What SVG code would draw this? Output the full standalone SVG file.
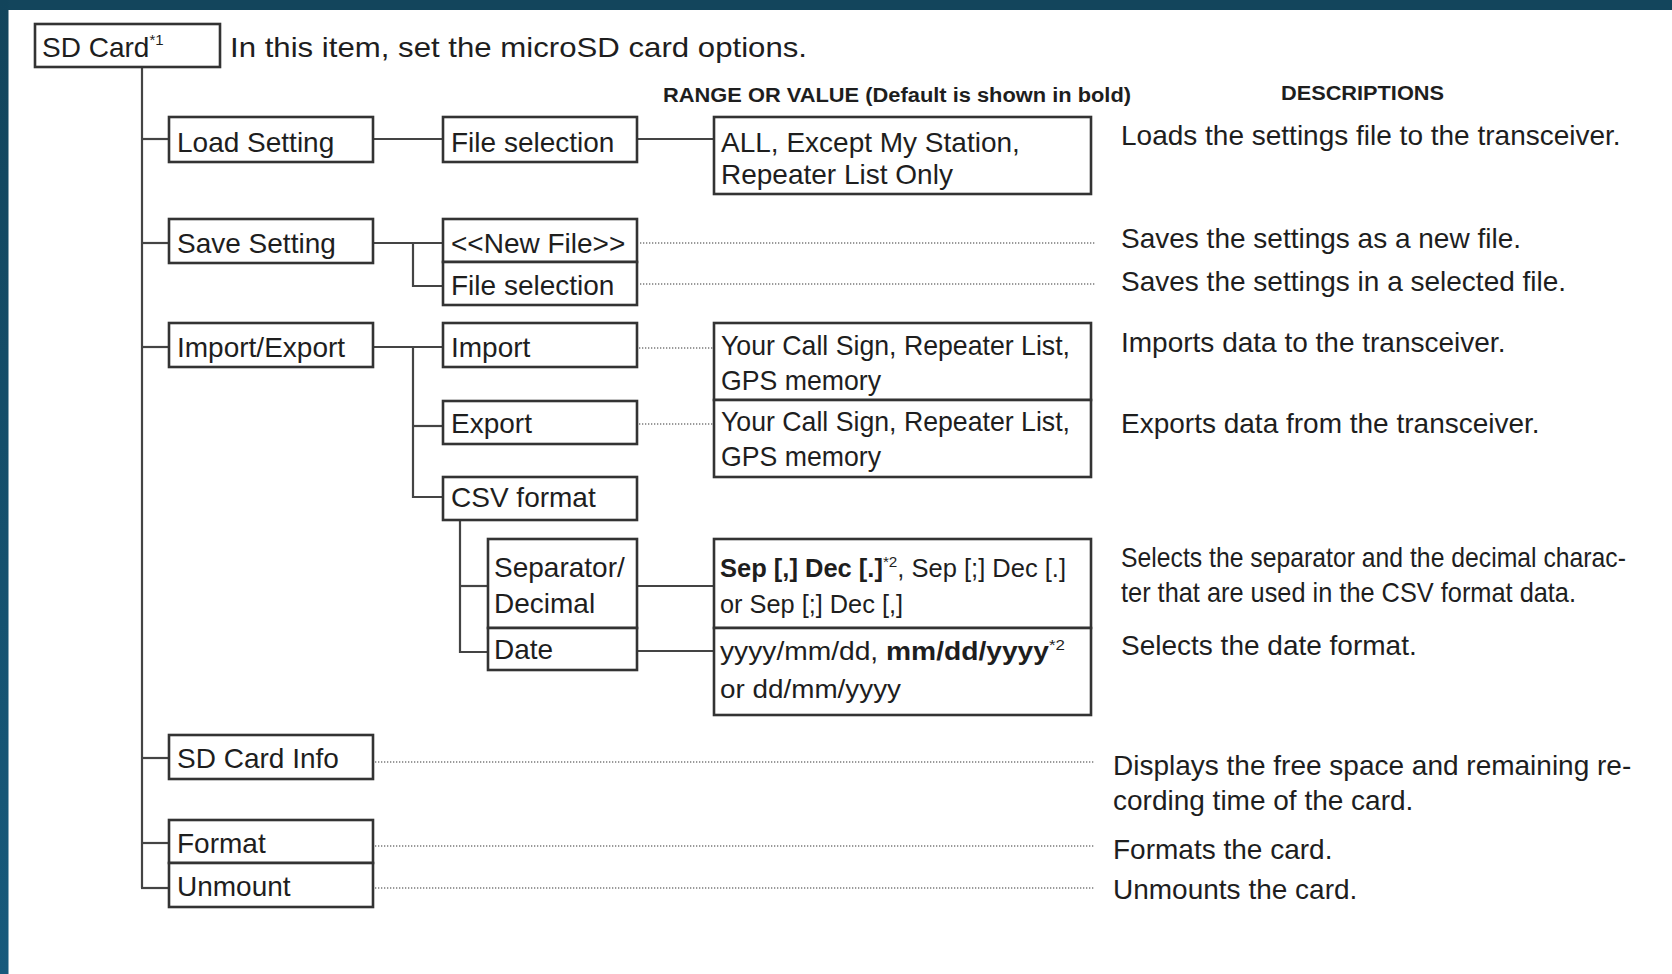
<svg xmlns="http://www.w3.org/2000/svg" width="1672" height="974" viewBox="0 0 1672 974">
<defs>
<linearGradient id="lb" x1="0" y1="0" x2="0" y2="1">
<stop offset="0" stop-color="#12445b"/>
<stop offset="1" stop-color="#175a7c"/>
</linearGradient>
<style>
text{font-family:"Liberation Sans",Arial,Helvetica,sans-serif;fill:#1e1e1e;font-size:28px}
.box{fill:#fff;stroke:#333;stroke-width:2.6}
.ln{stroke:#444;stroke-width:2.2;fill:none}
.dot{stroke:#9a9a9a;stroke-width:2;stroke-dasharray:1.3 1.7;fill:none}
.hd{font-weight:bold;font-size:20px}
.sm{font-size:25px}
.b{font-weight:bold}
.sup{font-size:15px}
</style>
</defs>
<rect x="0" y="0" width="1672" height="974" fill="#fff"/>
<rect x="0" y="0" width="1672" height="10" fill="#13455c"/>
<rect x="0" y="0" width="8.5" height="974" fill="url(#lb)"/>

<g id="connectors">
<line class="ln" x1="142" y1="67" x2="142" y2="888"/>
<line class="ln" x1="142" y1="139" x2="169" y2="139"/>
<line class="ln" x1="142" y1="243" x2="169" y2="243"/>
<line class="ln" x1="142" y1="347" x2="169" y2="347"/>
<line class="ln" x1="142" y1="758" x2="169" y2="758"/>
<line class="ln" x1="142" y1="843" x2="169" y2="843"/>
<line class="ln" x1="141" y1="888" x2="169" y2="888"/>
<line class="ln" x1="373" y1="139" x2="443" y2="139"/>
<line class="ln" x1="637" y1="139" x2="714" y2="139"/>
<line class="ln" x1="373" y1="243" x2="443" y2="243"/>
<polyline class="ln" points="413,243 413,286 443,286"/>
<line class="ln" x1="373" y1="347" x2="443" y2="347"/>
<polyline class="ln" points="413,347 413,497 443,497"/>
<line class="ln" x1="413" y1="426" x2="443" y2="426"/>
<polyline class="ln" points="460,520 460,652 488,652"/>
<line class="ln" x1="460" y1="586" x2="488" y2="586"/>
<line class="ln" x1="637" y1="586" x2="714" y2="586"/>
<line class="ln" x1="637" y1="651" x2="714" y2="651"/>
<line class="dot" x1="640" y1="243" x2="1095" y2="243"/>
<line class="dot" x1="640" y1="284" x2="1095" y2="284"/>
<line class="dot" x1="639" y1="348" x2="714" y2="348"/>
<line class="dot" x1="639" y1="424" x2="714" y2="424"/>
<line class="dot" x1="375" y1="762" x2="1095" y2="762"/>
<line class="dot" x1="375" y1="846" x2="1095" y2="846"/>
<line class="dot" x1="375" y1="888" x2="1095" y2="888"/>
</g>

<g id="headers">
<text class="hd" x="663" y="102" textLength="468" lengthAdjust="spacingAndGlyphs">RANGE OR VALUE (Default is shown in bold)</text>
<text class="hd" x="1281" y="100" textLength="163" lengthAdjust="spacingAndGlyphs">DESCRIPTIONS</text>
</g>

<g id="sdcard">
<rect class="box" x="35" y="24" width="185" height="43"/>
<text x="42" y="57">SD Card<tspan class="sup" dy="-12">*1</tspan></text>
<text x="230" y="57" font-size="30" textLength="577" lengthAdjust="spacingAndGlyphs">In this item, set the microSD card options.</text>
</g>

<g id="load-setting">
<rect class="box" x="169" y="117" width="204" height="45"/>
<text x="177" y="152">Load Setting</text>
</g>
<g id="load-file-selection">
<rect class="box" x="443" y="117" width="194" height="45"/>
<text x="451" y="152">File selection</text>
</g>
<g id="load-range">
<rect class="box" x="714" y="117" width="377" height="77"/>
<text x="721" y="152">ALL, Except My Station,</text>
<text x="721" y="184">Repeater List Only</text>
</g>
<g id="desc-load">
<text x="1121" y="145">Loads the settings file to the transceiver.</text>
</g>

<g id="save-setting">
<rect class="box" x="169" y="219" width="204" height="44"/>
<text x="177" y="253">Save Setting</text>
</g>
<g id="save-new-file">
<rect class="box" x="443" y="219" width="194" height="43"/>
<text x="451" y="253">&lt;&lt;New File&gt;&gt;</text>
</g>
<g id="save-file-selection">
<rect class="box" x="443" y="262" width="194" height="43"/>
<text x="451" y="295">File selection</text>
</g>
<g id="desc-save">
<text x="1121" y="248">Saves the settings as a new file.</text>
<text x="1121" y="291">Saves the settings in a selected file.</text>
</g>

<g id="import-export">
<rect class="box" x="169" y="323" width="204" height="44"/>
<text x="177" y="357">Import/Export</text>
</g>
<g id="import">
<rect class="box" x="443" y="323" width="194" height="44"/>
<text x="451" y="357">Import</text>
</g>
<g id="import-range">
<rect class="box" x="714" y="323" width="377" height="77"/>
<text x="721" y="355" textLength="349" lengthAdjust="spacingAndGlyphs">Your Call Sign, Repeater List,</text>
<text x="721" y="390" textLength="160" lengthAdjust="spacingAndGlyphs">GPS memory</text>
</g>
<g id="export">
<rect class="box" x="443" y="401" width="194" height="43"/>
<text x="451" y="433">Export</text>
</g>
<g id="export-range">
<rect class="box" x="714" y="400" width="377" height="77"/>
<text x="721" y="431" textLength="349" lengthAdjust="spacingAndGlyphs">Your Call Sign, Repeater List,</text>
<text x="721" y="466" textLength="160" lengthAdjust="spacingAndGlyphs">GPS memory</text>
</g>
<g id="desc-import-export">
<text x="1121" y="352">Imports data to the transceiver.</text>
<text x="1121" y="433">Exports data from the transceiver.</text>
</g>

<g id="csv-format">
<rect class="box" x="443" y="477" width="194" height="43"/>
<text x="451" y="507">CSV format</text>
</g>
<g id="separator-decimal">
<rect class="box" x="488" y="539" width="149" height="89"/>
<text x="494" y="577">Separator/</text>
<text x="494" y="613">Decimal</text>
</g>
<g id="separator-range">
<rect class="box" x="714" y="539" width="377" height="89"/>
<text class="sm" x="720" y="577" textLength="346" lengthAdjust="spacingAndGlyphs"><tspan class="b">Sep [,] Dec [.]</tspan><tspan class="sup" dy="-10">*2</tspan><tspan dy="10">, Sep [;] Dec [.]</tspan></text>
<text class="sm" x="720" y="613" textLength="183" lengthAdjust="spacingAndGlyphs">or Sep [;] Dec [,]</text>
</g>
<g id="date">
<rect class="box" x="488" y="628" width="149" height="42"/>
<text x="494" y="659">Date</text>
</g>
<g id="date-range">
<rect class="box" x="714" y="628" width="377" height="87"/>
<text class="sm" x="720" y="660" textLength="345" lengthAdjust="spacingAndGlyphs">yyyy/mm/dd, <tspan class="b">mm/dd/yyyy</tspan><tspan class="sup" dy="-10">*2</tspan></text>
<text class="sm" x="720" y="698" textLength="181" lengthAdjust="spacingAndGlyphs">or dd/mm/yyyy</text>
</g>
<g id="desc-csv">
<text x="1121" y="567" font-size="26" textLength="505" lengthAdjust="spacingAndGlyphs">Selects the separator and the decimal charac-</text>
<text x="1121" y="602" font-size="26" textLength="455" lengthAdjust="spacingAndGlyphs">ter that are used in the CSV format data.</text>
<text x="1121" y="655">Selects the date format.</text>
</g>

<g id="sd-card-info">
<rect class="box" x="169" y="735" width="204" height="44"/>
<text x="177" y="768">SD Card Info</text>
</g>
<g id="format">
<rect class="box" x="169" y="820" width="204" height="43"/>
<text x="177" y="853">Format</text>
</g>
<g id="unmount">
<rect class="box" x="169" y="863" width="204" height="44"/>
<text x="177" y="896">Unmount</text>
</g>
<g id="desc-card">
<text x="1113" y="775">Displays the free space and remaining re-</text>
<text x="1113" y="810">cording time of the card.</text>
<text x="1113" y="859">Formats the card.</text>
<text x="1113" y="899">Unmounts the card.</text>
</g>
</svg>
